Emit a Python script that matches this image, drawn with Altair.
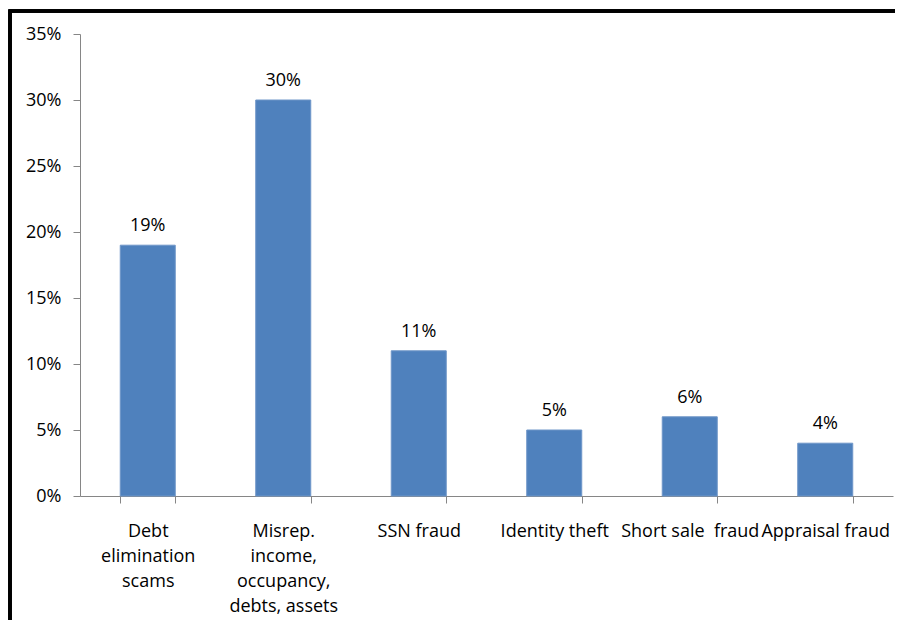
import altair as alt
import pandas as pd

categories = ["Debt|elimination|scams", "Misrep.|income,|occupancy,|debts, assets",
              "SSN fraud", "Identity theft", "Short sale\u00a0\u00a0fraud", "Appraisal fraud"]
values = [0.19, 0.30, 0.11, 0.05, 0.06, 0.04]
labels = ["19%", "30%", "11%", "5%", "6%", "4%"]

df = pd.DataFrame({"cat": categories, "val": values, "lab": labels})

FONT = "Open Sans"
FS = 18

x = alt.X("cat:N", sort=categories, title=None,
          scale=alt.Scale(paddingInner=0.594, paddingOuter=0.297),
          axis=alt.Axis(labelAngle=0, labelExpr="split(datum.label, '|')",
                        tickBand="extent", tickSize=7, labelPadding=19,
                        labelLineHeight=25, labelBaseline="top",
                        labelFont=FONT, labelFontSize=FS, labelColor="#000000",
                        domainColor="#868686", tickColor="#868686", labelLimit=200))
y = alt.Y("val:Q", title=None,
          scale=alt.Scale(domain=[0, 0.35]),
          axis=alt.Axis(format=".0%", values=[0, 0.05, 0.10, 0.15, 0.20, 0.25, 0.30, 0.35],
                        grid=False, tickSize=7, labelPadding=12,
                        labelFont=FONT, labelFontSize=FS, labelColor="#000000",
                        domainColor="#868686", tickColor="#868686"))

bars = alt.Chart(df).mark_bar(color="#4F81BD", stroke="#6F96C8", strokeWidth=1).encode(x=x, y=y)
text = alt.Chart(df).mark_text(font=FONT, fontSize=FS, dy=-14, baseline="alphabetic",
                               color="#000000").encode(x=x, y=y, text="lab:N")

frame = alt.Chart(df).mark_rect(filled=False, stroke="#000000", strokeWidth=3, clip=False).encode(
    x=alt.value(-70), x2=alt.value(1000), y=alt.value(-23), y2=alt.value(800))

chart = alt.layer(frame, bars, text).properties(
    width=813, height=462,
    autosize=alt.AutoSizeParams(type="none"),
    padding={"left": 72, "top": 26, "right": 2, "bottom": 124},
).configure_view(stroke=None)

chart.save("out.html", embed_options={"renderer": "svg", "actions": False})
